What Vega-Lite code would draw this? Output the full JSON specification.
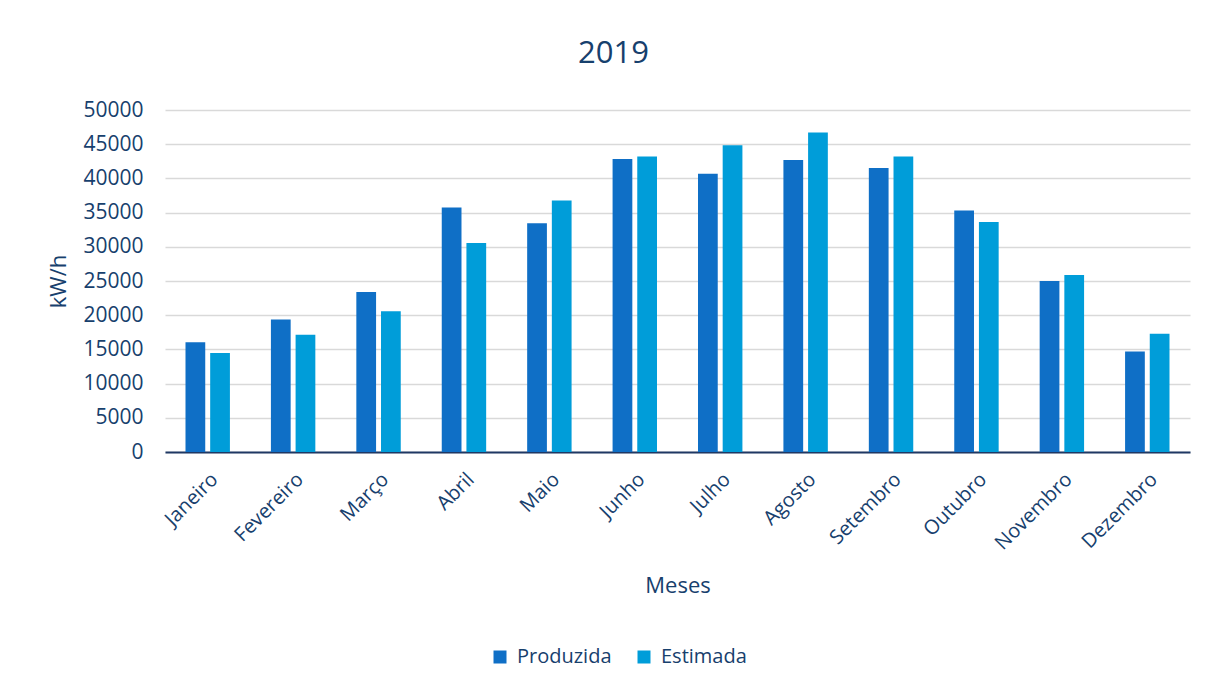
{
  "$schema": "https://vega.github.io/schema/vega-lite/v6.json",
  "autosize": "none",
  "width": 1025,
  "height": 342,
  "padding": {"left": 165, "top": 110, "right": 18, "bottom": 237},
  "background": "white",
  "title": {
    "text": "2019",
    "fontSize": 31,
    "font": "Open Sans",
    "fontWeight": "normal",
    "color": "#17406D",
    "anchor": "middle",
    "dx": -64,
    "offset": 29
  },
  "data": {
    "values": [
      {"mes": "Janeiro", "serie": "Produzida", "valor": 16030},
      {"mes": "Janeiro", "serie": "Estimada", "valor": 14460},
      {"mes": "Fevereiro", "serie": "Produzida", "valor": 19360},
      {"mes": "Fevereiro", "serie": "Estimada", "valor": 17160},
      {"mes": "Março", "serie": "Produzida", "valor": 23380},
      {"mes": "Março", "serie": "Estimada", "valor": 20590},
      {"mes": "Abril", "serie": "Produzida", "valor": 35730},
      {"mes": "Abril", "serie": "Estimada", "valor": 30540},
      {"mes": "Maio", "serie": "Produzida", "valor": 33430},
      {"mes": "Maio", "serie": "Estimada", "valor": 36760},
      {"mes": "Junho", "serie": "Produzida", "valor": 42840},
      {"mes": "Junho", "serie": "Estimada", "valor": 43190},
      {"mes": "Julho", "serie": "Produzida", "valor": 40690},
      {"mes": "Julho", "serie": "Estimada", "valor": 44850},
      {"mes": "Agosto", "serie": "Produzida", "valor": 42700},
      {"mes": "Agosto", "serie": "Estimada", "valor": 46720},
      {"mes": "Setembro", "serie": "Produzida", "valor": 41520},
      {"mes": "Setembro", "serie": "Estimada", "valor": 43190},
      {"mes": "Outubro", "serie": "Produzida", "valor": 35290},
      {"mes": "Outubro", "serie": "Estimada", "valor": 33630},
      {"mes": "Novembro", "serie": "Produzida", "valor": 25000},
      {"mes": "Novembro", "serie": "Estimada", "valor": 25880},
      {"mes": "Dezembro", "serie": "Produzida", "valor": 14710},
      {"mes": "Dezembro", "serie": "Estimada", "valor": 17300}
    ]
  },
  "mark": {"type": "bar"},
  "encoding": {
    "x": {
      "field": "mes",
      "type": "nominal",
      "sort": null,
      "scale": {"paddingInner": 0.48, "paddingOuter": 0.24},
      "axis": {
        "title": "Meses",
        "labelAngle": -45,
        "labelFontSize": 20,
        "labelFont": "Open Sans",
        "labelColor": "#17406D",
        "labelPadding": 17,
        "ticks": false,
        "domainColor": "#1F3864",
        "domainWidth": 2,
        "titleFontSize": 22,
        "titleFont": "Open Sans",
        "titleFontWeight": "normal",
        "titleColor": "#17406D",
        "titlePadding": 22
      }
    },
    "xOffset": {
      "field": "serie",
      "type": "nominal",
      "sort": ["Produzida", "Estimada"],
      "scale": {"paddingInner": 0.2}
    },
    "y": {
      "field": "valor",
      "type": "quantitative",
      "scale": {"domain": [0, 50000]},
      "axis": {
        "title": "kW/h",
        "values": [0, 5000, 10000, 15000, 20000, 25000, 30000, 35000, 40000, 45000, 50000],
        "format": "d",
        "labelFontSize": 21,
        "labelFont": "Open Sans",
        "labelColor": "#17406D",
        "labelPadding": 22,
        "ticks": false,
        "domain": false,
        "gridColor": "#D9D9D9",
        "gridWidth": 1.5,
        "titleFontSize": 22,
        "titleFont": "Open Sans",
        "titleFontWeight": "normal",
        "titleColor": "#17406D",
        "titlePadding": 12
      }
    },
    "color": {
      "field": "serie",
      "type": "nominal",
      "sort": ["Produzida", "Estimada"],
      "scale": {"domain": ["Produzida", "Estimada"], "range": ["#0F6FC6", "#009DD9"]},
      "legend": {
        "title": null,
        "orient": "none",
        "legendX": 325,
        "legendY": 537,
        "direction": "horizontal",
        "symbolType": "square",
        "symbolSize": 169,
        "symbolStrokeWidth": 0,
        "symbolOffset": 0,
        "labelOffset": 7,
        "labelFontSize": 20,
        "labelFont": "Open Sans",
        "labelColor": "#17406D",
        "columnPadding": 22
      }
    }
  },
  "config": {
    "view": {"stroke": null}
  }
}
